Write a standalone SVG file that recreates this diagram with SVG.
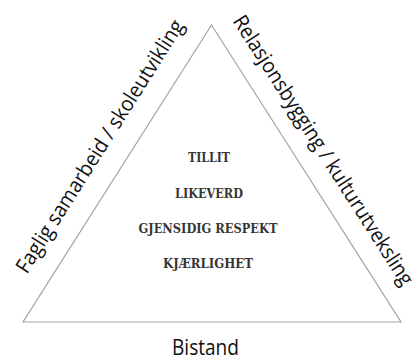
<svg xmlns="http://www.w3.org/2000/svg" width="415" height="358" viewBox="0 0 415 358">
<style>
.side{font-family:"Open Sans","Liberation Sans",sans-serif;font-size:21px;fill:#111111}
.val{font-family:"DejaVu Serif","Liberation Serif",serif;font-weight:bold;font-size:13.5px;fill:#363636;text-anchor:middle}
.tri{fill:none;stroke:#9ea3ab;stroke-width:1.2}
</style>
<rect width="415" height="358" fill="#ffffff"/>
<g id="triangle">
<polygon class="tri" points="211.5,25 23,322 401,322"/>
</g>
<g id="left-label">
<text class="side" transform="translate(26.9,274.7) rotate(-57.67)" textLength="295" lengthAdjust="spacingAndGlyphs">Faglig samarbeid / skoleutvikling</text>
</g>
<g id="right-label">
<text class="side" transform="translate(232.2,21) rotate(57.39)" textLength="316" lengthAdjust="spacingAndGlyphs">Relasjonsbygging / kulturutveksling</text>
</g>
<g id="values">
<text class="val" x="209" y="162" textLength="42" lengthAdjust="spacingAndGlyphs">TILLIT</text>
<text class="val" x="209" y="198" textLength="68" lengthAdjust="spacingAndGlyphs">LIKEVERD</text>
<text class="val" x="208" y="233" textLength="139" lengthAdjust="spacingAndGlyphs">GJENSIDIG RESPEKT</text>
<text class="val" x="208" y="268" textLength="90" lengthAdjust="spacingAndGlyphs">KJÆRLIGHET</text>
</g>
<g id="bottom-label">
<text class="side" x="205.5" y="355" text-anchor="middle" textLength="67" lengthAdjust="spacingAndGlyphs">Bistand</text>
</g>
</svg>
